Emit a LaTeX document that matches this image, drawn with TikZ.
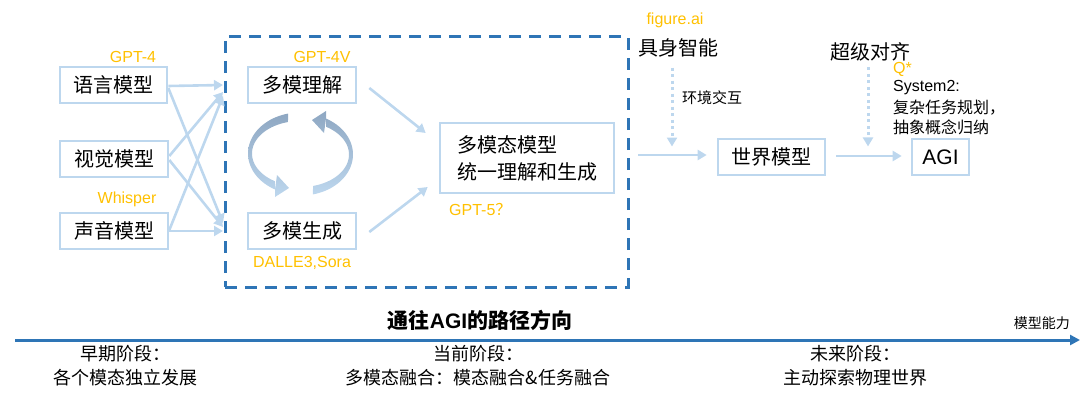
\documentclass[tikz,border=0pt]{standalone}
\usepackage{fontspec}
\setmainfont{Liberation Sans}
\newfontfamily\cjk{Noto Sans CJK SC}
\usetikzlibrary{arrows.meta,calc}
\definecolor{boxblue}{HTML}{BDD7EE}
\definecolor{dashblue}{HTML}{2E75B6}
\definecolor{tagorange}{HTML}{FFC000}
\definecolor{ribbondark}{HTML}{8EA7C2}
\definecolor{ribbonlight}{HTML}{BDD7EE}
\begin{document}
\begin{tikzpicture}[x=1pt,y=-1pt,
  box/.style={draw=boxblue, line width=2.6pt, fill=white, inner sep=0pt,
    minimum height=36pt, font=\cjk\fontsize{20}{24}\selectfont},
  tag/.style={text=tagorange, inner sep=0pt, font=\fontsize{16}{19}\selectfont},
  note/.style={inner sep=0pt, font=\cjk\fontsize{16}{19}\selectfont},
  title/.style={inner sep=0pt, font=\cjk\fontsize{20}{24}\selectfont},
  stage/.style={inner sep=0pt, align=center, font=\cjk\fontsize{18}{24}\selectfont},
  conn/.style={draw=boxblue, line width=2.6pt, -{Triangle[length=9pt,width=10pt]}},
  probe/.style={draw=boxblue, line width=3pt, dash pattern=on 3pt off 3.5pt,
    -{Triangle[length=9pt,width=10pt]}},
  ribbon/.style={top color=ribbondark, middle color=ribbonlight, bottom color=ribbonlight}]
\useasboundingbox (0,0) rectangle (1086,409);

% dashed frame around the multimodal stage
\node[draw=dashblue, line width=3pt, dash pattern=on 12pt off 8pt,
  minimum width=403pt, minimum height=250pt, inner sep=0pt] (frame) at (426.5,162) {};

% single-modality models
\node[box, minimum width=107pt] (lang) at (113.5,85) {语言模型};
\node[box, minimum width=108pt] (vis) at (114,159) {视觉模型};
\node[box, minimum width=108pt] (snd) at (114,231) {声音模型};
\node[tag] (gpt4) at (133,57) {GPT-4};
\node[tag] (whisper) at (127,199) {Whisper};

% multimodal understanding / generation
\node[box, minimum width=108pt] (und) at (302,85) {多模理解};
\node[box, minimum width=108pt] (gen) at (302,231) {多模生成};
\node[tag] (gpt4v) at (322,57) {GPT-4V};
\node[tag] (dalle) at (302,263) {DALLE3,Sora};

% unified model
\node[box, minimum width=174pt, minimum height=70pt, align=left,
  font=\cjk\fontsize{20}{27}\selectfont] (mm) at (527,158) {多模态模型\\统一理解和生成};
\node[tag, anchor=west] (gpt5) at (449,209) {GPT-5{\cjk ？}};

% world model and AGI
\node[box, minimum width=107pt] (world) at (771.5,157) {世界模型};
\node[box, minimum width=57pt, font=\fontsize{21}{24}\selectfont] (agi) at (940.5,157) {AGI};

\node[tag] (figai) at (675,20) {figure.ai};
\node[title] (emb) at (678,48) {具身智能};
\node[note, anchor=west, font=\cjk\fontsize{15}{18}\selectfont] (env) at (682,98) {环境交互};
\node[title] (align) at (870,52) {超级对齐};
\node[tag, anchor=west] (qstar) at (893,69) {Q*};
\node[anchor=west, inner sep=0pt, font=\fontsize{16}{19}\selectfont] (sys) at (893,88) {System2:};
\node[note, anchor=west] (plan) at (893,108) {复杂任务规划，};
\node[note, anchor=west] (abs) at (893,127) {抽象概念归纳};

% inputs into the multimodal stage
\coordinate (u1) at (223,85);
\coordinate (u2) at (223,92);
\coordinate (u3) at (223,96);
\coordinate (g1) at (223,223);
\coordinate (g2) at (223,227);
\coordinate (g3) at (223,231);
\draw[conn] ($(lang.east)+(0,1)$) -- (u1);
\draw[conn] ($(lang.east)+(0,3)$) -- (g1);
\draw[conn] ($(vis.east)+(0,-3)$) -- (u2);
\draw[conn] ($(vis.east)+(0,1)$) -- (g2);
\draw[conn] ($(snd.east)+(0,-1)$) -- (u3);
\draw[conn] ($(snd.east)+(0,0)$) -- (g3);

\draw[conn] ($(und.east)+(12,3)$) -- ($(mm.west)+(-13,-25)$);
\draw[conn] ($(gen.east)+(12,1)$) -- ($(mm.west)+(-11,29)$);
\draw[conn] ($(mm.east)+(23,-3)$) -- ($(world.west)+(-10,-2)$);
\draw[conn] ($(world.east)+(10,-1)$) -- ($(agi.west)+(-9,-1)$);

\draw[probe] ($(emb.south)+(-6,10)$) -- ($(emb.south)+(-6,89)$);
\draw[probe] ($(align.south)+(-2,6)$) -- ($(align.south)+(-2,85)$);

% circular ribbons between understanding and generation
\shade[ribbon]
  plot[domain=103.3:241.3, samples=40] ({300+52*cos(\x)},{153.5-41*sin(\x)})
  -- (277,175) -- (289,188) -- (275,197)
  -- plot[domain=238.6:104.5, samples=40] ({300+48*cos(\x)},{153.5-32.5*sin(\x)}) -- cycle;
\begin{scope}[rotate around={180:(300.5,154)}]
\shade[ribbon]
  plot[domain=103.3:241.3, samples=40] ({300+52*cos(\x)},{153.5-41*sin(\x)})
  -- (277,175) -- (289,188) -- (275,197)
  -- plot[domain=238.6:104.5, samples=40] ({300+48*cos(\x)},{153.5-32.5*sin(\x)}) -- cycle;
\end{scope}

% timeline
\coordinate (axstart) at (15,340);
\coordinate (axend) at (1080,340);
\draw[dashblue, line width=3pt, -{Triangle[length=10pt,width=10pt]}] (axstart) -- (axend);
\node[inner sep=0pt, font=\cjk\bfseries\fontsize{21}{24}\selectfont] (route) at (480,320)
  {通往{\fontspec{Liberation Sans}\bfseries AGI}的路径方向};
\node[inner sep=0pt, anchor=east, font=\cjk\fontsize{14}{16}\selectfont] (cap) at (1070,323) {模型能力};
\node[stage] (early) at (125,366) {早期阶段：\\各个模态独立发展};
\node[stage] (now) at (478,366) {当前阶段：\\多模态融合：模态融合\&任务融合};
\node[stage] (future) at (855,366) {未来阶段：\\主动探索物理世界};
\end{tikzpicture}
\end{document}
